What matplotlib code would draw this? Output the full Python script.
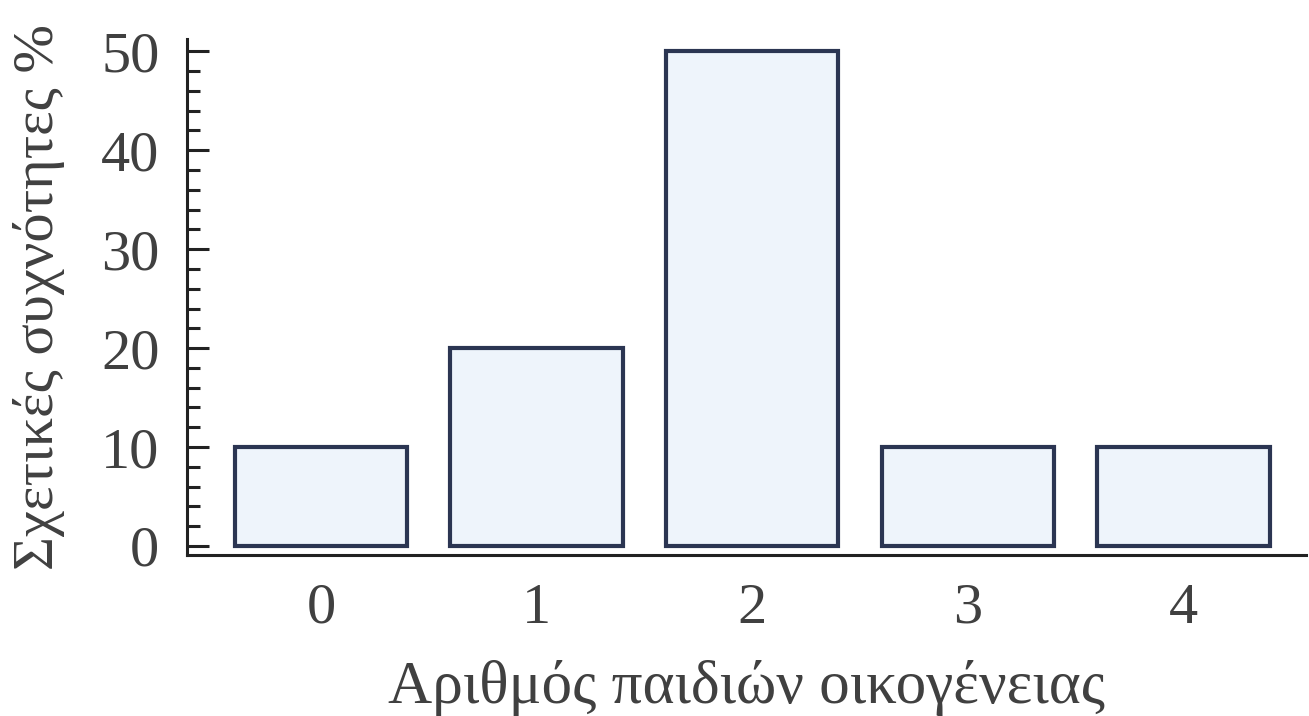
import matplotlib.pyplot as plt
from matplotlib.ticker import MultipleLocator

# data
children = [0, 1, 2, 3, 4]
percent = [10, 20, 50, 10, 10]
xlabels = ["0", "1", "2", "3", "4"]

plt.rcParams['font.family'] = ['Liberation Serif', 'DejaVu Serif']
text_col = '#404040'

fig = plt.figure(figsize=(13.09, 7.16), dpi=100)
ax = fig.add_axes([0.143, 0.225, 0.855, 0.72])

ax.bar(children, percent, width=0.8, color='#eef4fb', edgecolor='#2b3552',
       linewidth=3)

ax.set_xlim(-0.62, 4.57)
ax.set_ylim(-0.9, 51.2)

ax.spines['top'].set_visible(False)
ax.spines['right'].set_visible(False)
ax.spines['left'].set_linewidth(2.2)
ax.spines['bottom'].set_linewidth(2.2)
ax.spines['left'].set_color('#222222')
ax.spines['bottom'].set_color('#222222')

ax.set_xticks(children)
ax.set_xticklabels(xlabels)
ax.tick_params(axis='x', length=0, pad=20, labelsize=42, labelcolor=text_col)

ax.yaxis.set_major_locator(MultipleLocator(10))
ax.yaxis.set_minor_locator(MultipleLocator(2))
ax.tick_params(axis='y', which='major', direction='in', length=16, width=2.2,
               pad=20, labelsize=42, labelcolor=text_col, color='#222222')
ax.tick_params(axis='y', which='minor', direction='in', length=9, width=2.2,
               color='#222222')

ax.set_ylabel("Σχετικές συχνότητες %", fontsize=42, color=text_col, labelpad=26)
ax.set_xlabel("Αριθμός παιδιών οικογένειας", fontsize=44, color=text_col,
              labelpad=18)

fig.savefig("out.png", dpi=100)
